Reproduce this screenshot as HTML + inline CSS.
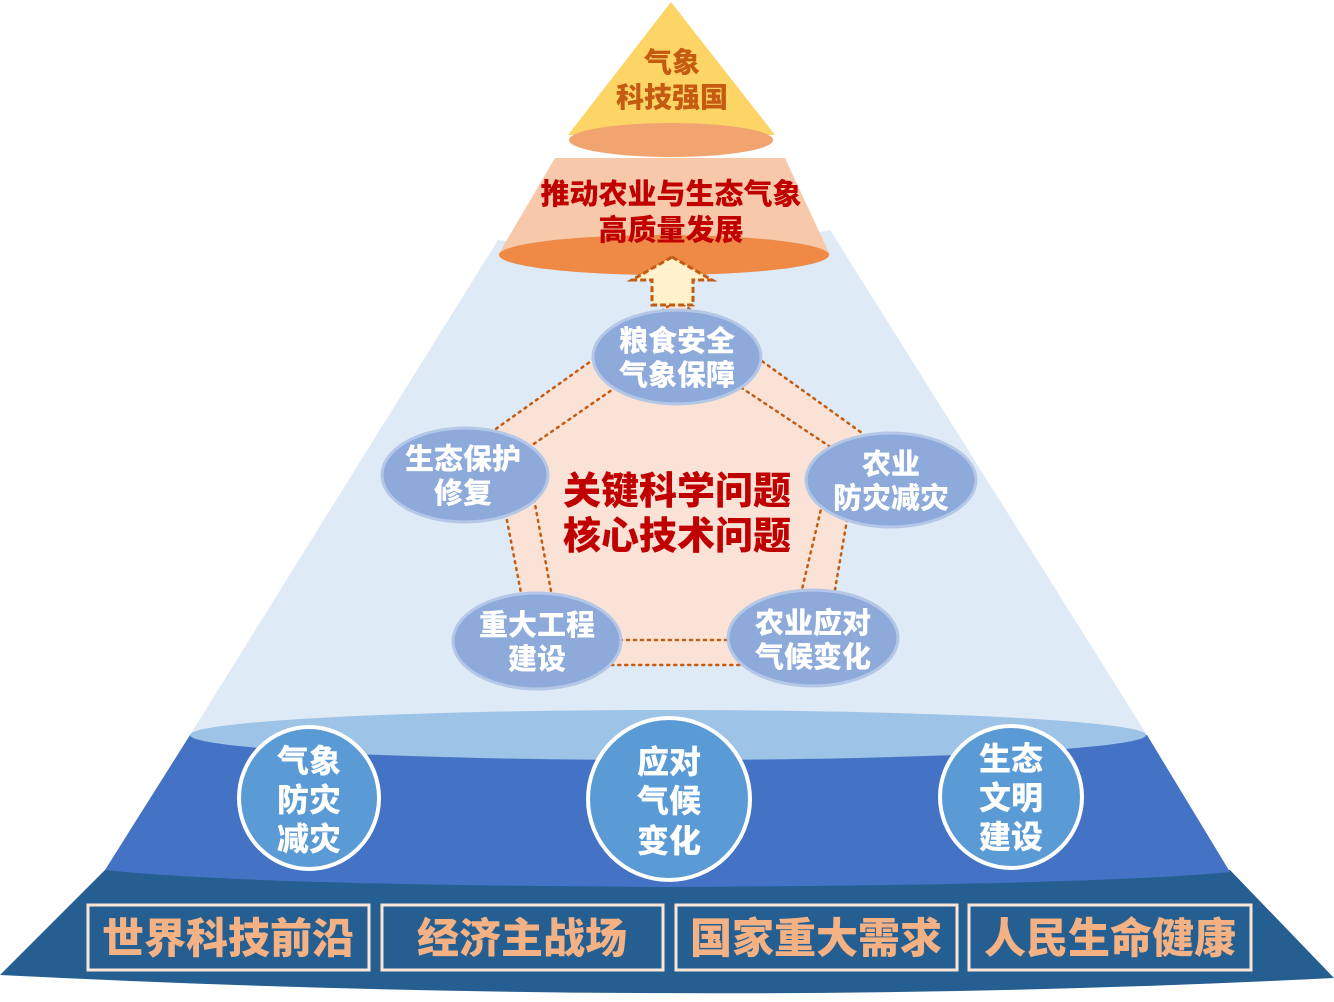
<!DOCTYPE html>
<html><head><meta charset="utf-8"><style>
html,body{margin:0;padding:0;background:#fff;}
svg{display:block;}
text{font-family:"Liberation Sans","Noto Sans CJK SC",sans-serif;font-weight:900;text-anchor:middle;}
</style></head><body>
<svg width="1334" height="1002" viewBox="0 0 1334 1002" xmlns="http://www.w3.org/2000/svg">
<polygon points="498,240 665,262 830,230 1147,735 190,735" fill="#deeaf6"/>
<path d="M105,870 L1230,870 L1334,978 Q700,1010 0,975 Z" fill="#255e91"/>
<path d="M190,735 L1147,735 L1230,872 Q1100,885 668,887 Q240,885 105,870 Z" fill="#4472c4"/>
<ellipse cx="668" cy="735" rx="478" ry="25" fill="#9dc3e6"/>
<polygon points="677,300 862,433 822,665 535,665 490,433" fill="#fae3d6"/>
<g fill="none" stroke="#c55a11" stroke-width="2.5" stroke-dasharray="2,5" stroke-linecap="round">
<polygon points="677,300 862,433 822,665 535,665 490,433"/>
<polygon points="677,345 835,450 790,640 560,640 525,450"/>
</g>
<polygon points="555,158 785,158 830,255 498,255" fill="#f7c9aa"/>
<ellipse cx="664" cy="255" rx="165" ry="20" fill="#ee8a46"/>
<polygon points="671,2 775,135 568,135" fill="#fdd466"/>
<ellipse cx="671" cy="140" rx="102" ry="17" fill="#f1a46f"/>
<text x="672" y="72" font-size="28" fill="#c55a11">气象</text>
<text x="672" y="107" font-size="28" fill="#c55a11">科技强国</text>
<text x="671" y="204" font-size="29" fill="#c00000">推动农业与生态气象</text>
<text x="671" y="240" font-size="29" fill="#c00000">高质量发展</text>
<polygon points="672,257 712,280 693,280 693,305 652,305 652,280 632,280" fill="#fff2cc" stroke="#c55a11" stroke-width="3" stroke-dasharray="6,3"/>
<g fill="#8eaadb" stroke="#b4c7e7" stroke-width="3">
<ellipse cx="677" cy="357" rx="84" ry="47"/>
<ellipse cx="465" cy="475" rx="83" ry="47"/>
<ellipse cx="891" cy="480" rx="85" ry="47"/>
<ellipse cx="537" cy="641" rx="84" ry="48"/>
<ellipse cx="813" cy="638" rx="85" ry="48"/>
</g>
<g fill="#fff" font-size="29">
<text x="677" y="351">粮食安全</text><text x="677" y="385">气象保障</text>
<text x="463" y="469">生态保护</text><text x="463" y="503">修复</text>
<text x="891" y="474">农业</text><text x="891" y="508">防灾减灾</text>
<text x="537" y="635">重大工程</text><text x="537" y="669">建设</text>
<text x="813" y="633">农业应对</text><text x="813" y="667">气候变化</text>
</g>
<text x="677" y="504" font-size="38" fill="#c00000">关键科学问题</text>
<text x="677" y="549" font-size="38" fill="#c00000">核心技术问题</text>
<g fill="#5b9bd5" stroke="#fff" stroke-width="4">
<ellipse cx="309" cy="798" rx="70" ry="71"/>
<circle cx="669" cy="799" r="81"/>
<ellipse cx="1011" cy="797" rx="71" ry="71"/>
</g>
<g fill="#fff" font-size="32">
<text x="309" y="772">气象</text><text x="309" y="811">防灾</text><text x="309" y="850">减灾</text>
<text x="669" y="773">应对</text><text x="669" y="812">气候</text><text x="669" y="852">变化</text>
<text x="1011" y="770">生态</text><text x="1011" y="809">文明</text><text x="1011" y="848">建设</text>
</g>
<g fill="none" stroke="#fbe5d6" stroke-width="3">
<rect x="88" y="905" width="281" height="65"/>
<rect x="382" y="905" width="281" height="65"/>
<rect x="676" y="905" width="281" height="65"/>
<rect x="969" y="905" width="282" height="65"/>
</g>
<g fill="#f4b183" font-size="42">
<text x="228" y="953">世界科技前沿</text>
<text x="522" y="953">经济主战场</text>
<text x="816" y="953">国家重大需求</text>
<text x="1110" y="953">人民生命健康</text>
</g>
</svg>
</body></html>
